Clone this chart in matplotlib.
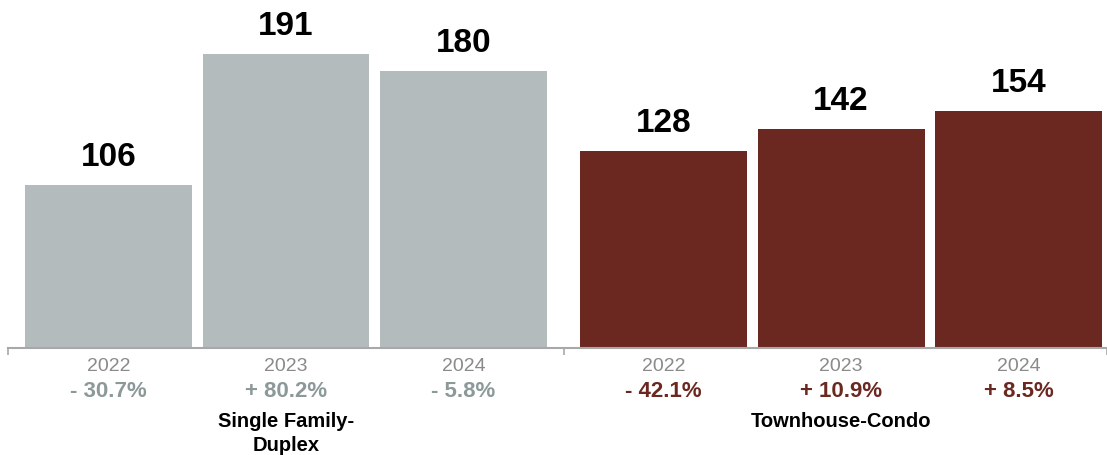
import matplotlib
matplotlib.use("Agg")
import matplotlib.pyplot as plt

plt.rcParams["font.family"] = ["Liberation Sans", "DejaVu Sans"]

# ---- data ----
groups = ["Single Family-\nDuplex", "Townhouse-Condo"]
years = ["2022", "2023", "2024"]
sfd_values = [106, 191, 180]
tc_values = [128, 142, 154]
sfd_changes = ["- 30.7%", "+ 80.2%", "- 5.8%"]
tc_changes = ["- 42.1%", "+ 10.9%", "+ 8.5%"]

# ---- style ----
BAR_GRAY = "#b4bbbc"
BAR_RED = "#6b2821"
PCT_GRAY = "#8d9999"
YEAR_GRAY = "#8a8a8a"
AXIS_GRAY = "#a8a8a8"
BAR_WIDTH = 0.94
GROUP_GAP = 0.127

fig = plt.figure(figsize=(11.07, 4.56), dpi=100)
ax = fig.add_axes([8 / 1107, (456 - 349) / 456, 1099 / 1107, 349 / 456])

series = [
    (sfd_values, sfd_changes, BAR_GRAY, PCT_GRAY),
    (tc_values, tc_changes, BAR_RED, BAR_RED),
]

for g, (values, changes, bar_color, pct_color) in enumerate(series):
    xs = [g * (3 + GROUP_GAP) + i for i in range(len(values))]
    ax.bar(xs, values, width=BAR_WIDTH, color=bar_color, linewidth=0)
    for x, v, yr, ch in zip(xs, values, years, changes):
        # value above the bar
        ax.annotate(str(v), (x, v), xytext=(0, 14.5), textcoords="offset points",
                    ha="center", va="baseline", fontsize=24, fontweight="bold",
                    color="black")
        # year and change below the axis
        ax.annotate(yr, (x, 0), xytext=(0, -15.5), textcoords="offset points",
                    ha="center", va="baseline", fontsize=14, color=YEAR_GRAY,
                    annotation_clip=False)
        ax.annotate(ch, (x, 0), xytext=(0, -34.5), textcoords="offset points",
                    ha="center", va="baseline", fontsize=16, fontweight="bold",
                    color=pct_color, annotation_clip=False)
    ax.annotate(groups[g], (xs[1], 0), xytext=(0, -45.5), textcoords="offset points",
                ha="center", va="top", fontsize=14.5, fontweight="bold",
                color="black", linespacing=1.3, annotation_clip=False)

left = -0.566
mid = 2 + (1 + GROUP_GAP) / 2
right = 5.625
ax.set_xlim(left, right)
ax.set_ylim(0, 226.8)

for s in ["top", "right", "left"]:
    ax.spines[s].set_visible(False)
ax.spines["bottom"].set_color(AXIS_GRAY)
ax.spines["bottom"].set_linewidth(1.5)
ax.set_yticks([])
ax.set_xticks([left, mid, right])
ax.set_xticklabels([])
ax.tick_params(axis="x", direction="out", length=5, width=1.2, color=AXIS_GRAY)

fig.savefig("out.png", dpi=100)
